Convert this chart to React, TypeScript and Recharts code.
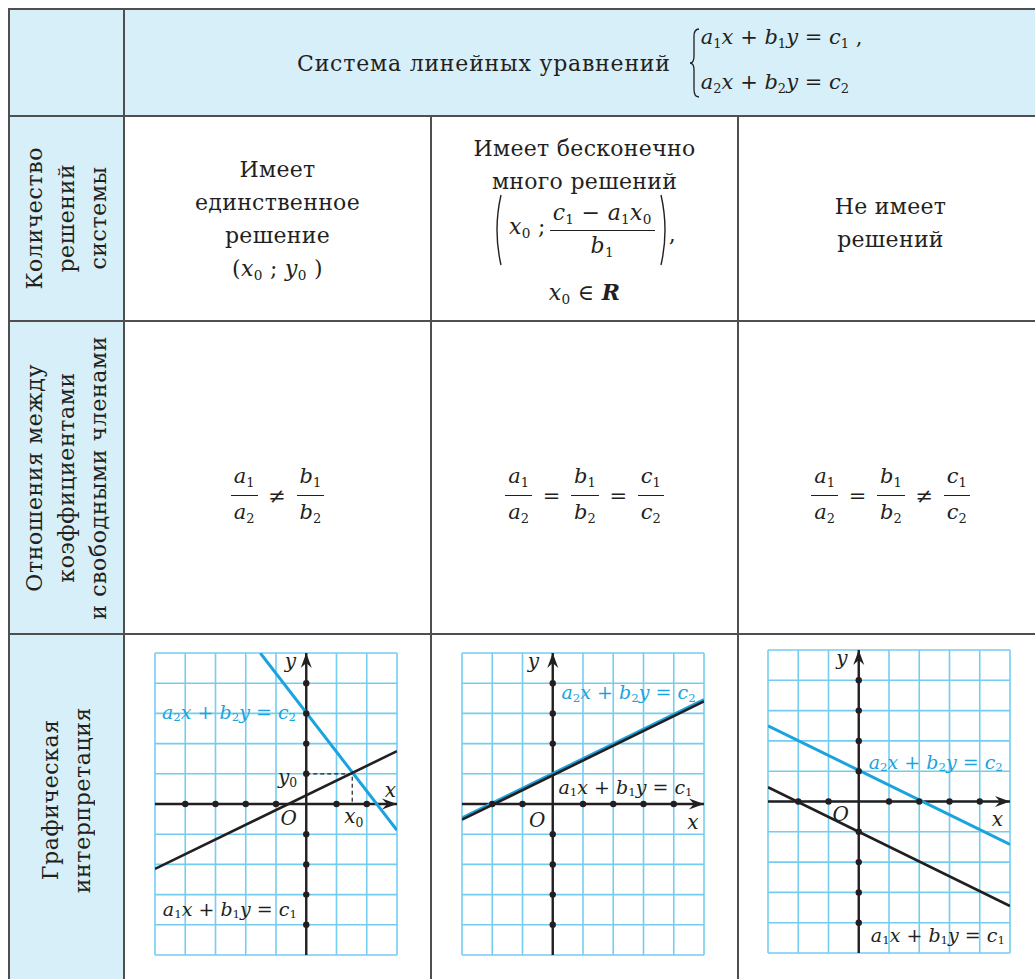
import React from 'react';
import {
  ComposedChart,
  Line,
  Scatter,
  XAxis,
  YAxis,
  CartesianGrid,
  ReferenceDot
} from 'recharts';

// --- graph data ---
const g1XTicks = [-5, -4, -3, -2, -1, 0, 1, 2, 3];
const g23XTicks = [-3, -2, -1, 0, 1, 2, 3, 4, 5];
const yTicks = [-5, -4, -3, -2, -1, 0, 1, 2, 3, 4, 5];

const g1Line1 = [{ x: -5, y: -2.15 }, { x: 3, y: 1.75 }];
const g1Line2 = [{ x: -1.52, y: 5 }, { x: 3, y: -0.87 }];
const g1Guide = [{ x: 0, y: 1 }, { x: 1.52, y: 1 }, { x: 1.52, y: 0 }];
const g1XDots = [-4, -3, -2, -1, 1, 2];
const g1YDots = [4, 3, 2, 1, -1, -2, -3, -4];

const g2Line1 = [{ x: -3, y: -0.52 }, { x: 5, y: 3.4 }];
const g2Line2 = [{ x: -3, y: -0.46 }, { x: 5, y: 3.46 }];
const g2XDots = [-2, -1, 1, 2, 3, 4];
const g2YDots = [4, 3, 2, -1, -2, -3, -4];

const g3Line1 = [{ x: -3, y: 0.47 }, { x: 5, y: -3.45 }];
const g3Line2 = [{ x: -3, y: 2.5 }, { x: 5, y: -1.42 }];
const g3XDots = [-2, -1, 1, 2, 3, 4];
const g3YDots = [4, 3, 2, 1, -1, -2, -3, -4];

const BLACK = '#231f20';
const BLUE = '#1ba3dd';
const GRID = '#74cdf0';
const CELL_BG = '#d7eff9';
const BORDER = '#4f4f4f';
const SERIF = '"DejaVu Serif", serif';
const MATH = '"DejaVu Serif", serif';

type Pt = { x: number; y: number };
type LabelSpec = { x: number; y: number; kind: 'eq1' | 'eq2' | 'x' | 'y' | 'O' | 'x0' | 'y0' };

const toDots = (xs: number[], ys: number[]): Pt[] => [
  ...xs.map((x) => ({ x, y: 0 })),
  ...ys.map((y) => ({ x: 0, y }))
];

const g1Labels: LabelSpec[] = [
  { x: -4.77, y: 3.05, kind: 'eq2' },
  { x: -4.74, y: -3.47, kind: 'eq1' },
  { x: -0.52, y: 4.74, kind: 'y' },
  { x: 2.78, y: 0.46, kind: 'x' },
  { x: -0.58, y: -0.47, kind: 'O' },
  { x: -0.62, y: 0.9, kind: 'y0' },
  { x: 1.57, y: -0.4, kind: 'x0' }
];
const g2Labels: LabelSpec[] = [
  { x: 0.29, y: 3.7, kind: 'eq2' },
  { x: 0.19, y: 0.56, kind: 'eq1' },
  { x: -0.64, y: 4.74, kind: 'y' },
  { x: -0.51, y: -0.53, kind: 'O' },
  { x: 4.63, y: -0.6, kind: 'x' }
];
const g3Labels: LabelSpec[] = [
  { x: 0.33, y: 1.3, kind: 'eq2' },
  { x: 0.4, y: -4.4, kind: 'eq1' },
  { x: -0.56, y: 4.74, kind: 'y' },
  { x: -0.6, y: -0.42, kind: 'O' },
  { x: 4.58, y: -0.58, kind: 'x' }
];

const Sub = ({ children, size }: { children: React.ReactNode; size: number }) => (
  <tspan fontSize={size * 0.62} fontStyle="normal" dy={size * 0.28}>
    {children}
  </tspan>
);

const EqSvg = ({ cx, cy, i, color }: { cx: number; cy: number; i: string; color: string }) => {
  const s = 19;
  const d = s * 0.28;
  return (
    <text x={cx} y={cy} fill={color} fontFamily={MATH} fontStyle="italic" fontSize={s} dominantBaseline="central">
      a<Sub size={s}>{i}</Sub>
      <tspan dy={-d}>x</tspan>
      <tspan fontStyle="normal"> + </tspan>b<Sub size={s}>{i}</Sub>
      <tspan dy={-d}>y</tspan>
      <tspan fontStyle="normal"> = </tspan>c<Sub size={s}>{i}</Sub>
    </text>
  );
};

const renderLabel = (kind: LabelSpec['kind']) => (p: any) => {
  const { cx, cy } = p;
  if (kind === 'eq1') return <EqSvg cx={cx} cy={cy} i="1" color={BLACK} />;
  if (kind === 'eq2') return <EqSvg cx={cx} cy={cy} i="2" color={BLUE} />;
  const s = 20;
  const base = kind === 'x0' ? 'x' : kind === 'y0' ? 'y' : kind;
  return (
    <text x={cx} y={cy} fill={BLACK} fontFamily={MATH} fontStyle="italic" fontSize={s} textAnchor="middle" dominantBaseline="central">
      {base}
      {(kind === 'x0' || kind === 'y0') && <Sub size={s}>0</Sub>}
    </text>
  );
};

const arrowDot = (dir: 'right' | 'up') => (p: any) => {
  const { cx, cy, index } = p;
  if (index !== 1) return <g key={`a-${index}`} />;
  const d =
    dir === 'right'
      ? `M${cx},${cy} L${cx - 15},${cy - 5.5} L${cx - 10},${cy} L${cx - 15},${cy + 5.5} Z`
      : `M${cx},${cy} L${cx - 5.5},${cy + 15} L${cx},${cy + 10} L${cx + 5.5},${cy + 15} Z`;
  return <path key={`a-${index}`} d={d} fill={BLACK} stroke="none" />;
};

const dotShape = (p: any) => <circle cx={p.cx} cy={p.cy} r={3.2} fill={BLACK} />;

interface GraphProps {
  xTicks: number[];
  line1: Pt[];
  line2: Pt[];
  guide?: Pt[];
  dots: Pt[];
  labels: LabelSpec[];
  height: number;
}

const PAD = 4;

const Graph: React.FC<GraphProps> = ({ xTicks, line1, line2, guide, dots, labels, height }) => {
  const xMin = xTicks[0];
  const xMax = xTicks[xTicks.length - 1];
  return (
    <ComposedChart width={242 + PAD * 2} height={height + PAD * 2} margin={{ top: PAD, right: PAD, bottom: PAD, left: PAD }}>
      <XAxis type="number" dataKey="x" domain={[xMin, xMax]} ticks={xTicks} allowDataOverflow hide />
      <YAxis type="number" dataKey="y" domain={[-5, 5]} ticks={yTicks} allowDataOverflow hide />
      <CartesianGrid stroke={GRID} strokeWidth={1.6} />
      {/* axes with arrows */}
      <Line data={[{ x: xMin, y: 0 }, { x: xMax, y: 0 }]} dataKey="y" stroke={BLACK} strokeWidth={2.4} dot={arrowDot('right')} isAnimationActive={false} />
      <Line data={[{ x: 0, y: -5 }, { x: 0, y: 5 }]} dataKey="y" stroke={BLACK} strokeWidth={2.4} dot={arrowDot('up')} isAnimationActive={false} />
      {guide && (
        <Line data={guide} dataKey="y" stroke={BLACK} strokeWidth={1.2} strokeDasharray="4 3" dot={false} isAnimationActive={false} />
      )}
      <Line data={line2} dataKey="y" stroke={BLUE} strokeWidth={3} dot={false} isAnimationActive={false} />
      <Line data={line1} dataKey="y" stroke={BLACK} strokeWidth={2.6} dot={false} isAnimationActive={false} />
      <Scatter data={dots} dataKey="y" shape={dotShape} isAnimationActive={false} />
      {labels.map((l, idx) => (
        <ReferenceDot key={idx} x={l.x} y={l.y} r={1} shape={renderLabel(l.kind)} />
      ))}
    </ComposedChart>
  );
};

// --- HTML math helpers ---
const I = ({ children }: { children: React.ReactNode }) => (
  <span style={{ fontStyle: 'italic', fontFamily: MATH }}>{children}</span>
);
const S = ({ children }: { children: React.ReactNode }) => (
  <span style={{ fontSize: '0.62em', verticalAlign: '-0.3em', fontStyle: 'normal' }}>{children}</span>
);

const Frac = ({ num, den, gap = 2 }: { num: React.ReactNode; den: React.ReactNode; gap?: number }) => (
  <span style={{ display: 'inline-flex', flexDirection: 'column', alignItems: 'center', verticalAlign: 'middle', margin: '0 4px', lineHeight: 1.15 }}>
    <span style={{ padding: `0 3px ${gap}px` }}>{num}</span>
    <span style={{ borderTop: `1.3px solid ${BLACK}`, alignSelf: 'stretch' }} />
    <span style={{ padding: `${gap}px 3px 0` }}>{den}</span>
  </span>
);

// thin stretchy delimiters drawn as tiny svg paths
const Brace = ({ h }: { h: number }) => (
  <svg width={12} height={h} style={{ display: 'inline-block', verticalAlign: 'middle' }}>
    <path
      d={`M10,1 Q5,1 5,${h * 0.12} L5,${h * 0.4} Q5,${h / 2} 1,${h / 2} Q5,${h / 2} 5,${h * 0.6} L5,${h * 0.88} Q5,${h - 1} 10,${h - 1}`}
      fill="none"
      stroke={BLACK}
      strokeWidth={1.3}
    />
  </svg>
);
const Paren = ({ h, right }: { h: number; right?: boolean }) => (
  <svg width={10} height={h} style={{ display: 'inline-block', verticalAlign: 'middle' }}>
    <path
      d={right ? `M2,1 Q10,${h / 2} 2,${h - 1}` : `M8,1 Q0,${h / 2} 8,${h - 1}`}
      fill="none"
      stroke={BLACK}
      strokeWidth={1.4}
    />
  </svg>
);

const ratio = (l: string) => (
  <Frac
    gap={4}
    num={<I>{l}<S>1</S></I>}
    den={<I>{l}<S>2</S></I>}
  />
);

const Rotated = ({ lines }: { lines: string[] }) => (
  <div
    style={{
      writingMode: 'vertical-rl',
      transform: 'rotate(180deg)',
      textAlign: 'center',
      lineHeight: '32px',
      fontSize: 22,
      letterSpacing: '0.6px'
    }}
  >
    {lines.map((t, i) => (
      <div key={i}>{t}</div>
    ))}
  </div>
);

const cell = (extra: React.CSSProperties = {}): React.CSSProperties => ({
  borderRight: `2px solid ${BORDER}`,
  borderBottom: `2px solid ${BORDER}`,
  boxSizing: 'border-box',
  display: 'flex',
  alignItems: 'center',
  justifyContent: 'center',
  textAlign: 'center',
  position: 'relative',
  ...extra
});

const rowText: React.CSSProperties = { fontSize: 22, lineHeight: '33px', letterSpacing: '0.3px' };

export default function App() {
  return (
    <div
      style={{
        position: 'absolute',
        left: 8,
        top: 8,
        width: 1027,
        height: 971,
        overflow: 'hidden',
        fontFamily: SERIF,
        color: BLACK,
        background: '#fff'
      }}
    >
      <div
        style={{
          display: 'grid',
          gridTemplateColumns: '115px 307px 307px 305px',
          gridTemplateRows: '107px 205px 313px 360px',
          borderTop: `2px solid ${BORDER}`,
          borderLeft: `2px solid ${BORDER}`,
          width: 1036,
          boxSizing: 'border-box'
        }}
      >
        {/* header */}
        <div style={cell({ background: CELL_BG })} />
        <div style={cell({ background: CELL_BG, gridColumn: '2 / 5', justifyContent: 'flex-start', paddingLeft: 172 })}>
          <span style={{ fontSize: 22, letterSpacing: '0.8px', marginTop: 2 }}>Система линейных уравнений</span>
          <span style={{ marginLeft: 18, display: 'inline-flex', alignItems: 'center' }}>
            <Brace h={70} />
          </span>
          <span style={{ display: 'inline-flex', flexDirection: 'column', textAlign: 'left', fontSize: 21, lineHeight: '39px' }}>
            <span>
              <I>a</I><S>1</S><I>x</I> + <I>b</I><S>1</S><I>y</I> = <I>c</I><S>1</S> ,
            </span>
            <span>
              <I>a</I><S>2</S><I>x</I> + <I>b</I><S>2</S><I>y</I> = <I>c</I><S>2</S>
            </span>
          </span>
        </div>

        {/* row 2 */}
        <div style={cell({ background: CELL_BG })}>
          <Rotated lines={['Количество', 'решений', 'системы']} />
        </div>
        <div style={cell({ paddingTop: 8 })}>
          <div style={rowText}>
            Имеет<br />единственное<br />решение<br />
            (<I>x</I><S>0</S> ; <I>y</I><S>0</S> )
          </div>
        </div>
        <div style={cell({ alignItems: 'flex-start', paddingTop: 15 })}>
          <div style={rowText}>
            Имеет бесконечно<br />много решений
            <div style={{ display: 'flex', alignItems: 'center', justifyContent: 'center', height: 76, marginTop: -6 }}>
              <Paren h={72} />
              <span style={{ marginLeft: 6 }}>
                <I>x</I><S>0</S>&nbsp;;
              </span>
              <Frac
                num={<span><I>c</I><S>1</S> − <I>a</I><S>1</S><I>x</I><S>0</S></span>}
                den={<span><I>b</I><S>1</S></span>}
              />
              <Paren h={72} right />
              <span style={{ alignSelf: 'center', marginTop: 8 }}>,</span>
            </div>
            <div style={{ marginTop: 8 }}>
              <I>x</I><S>0</S> ∈ <b><I>R</I></b>
            </div>
          </div>
        </div>
        <div style={cell({ paddingTop: 8 })}>
          <div style={rowText}>
            Не имеет<br />решений
          </div>
        </div>

        {/* row 3 */}
        <div style={cell({ background: CELL_BG })}>
          <Rotated lines={['Отношения между', 'коэффициентами', 'и свободными членами']} />
        </div>
        <div style={cell({ fontSize: 21, paddingTop: 36 })}>
          {ratio('a')}&nbsp;≠&nbsp;{ratio('b')}
        </div>
        <div style={cell({ fontSize: 21, paddingTop: 36 })}>
          {ratio('a')}&nbsp;=&nbsp;{ratio('b')}&nbsp;=&nbsp;{ratio('c')}
        </div>
        <div style={cell({ fontSize: 21, paddingTop: 36 })}>
          {ratio('a')}&nbsp;=&nbsp;{ratio('b')}&nbsp;≠&nbsp;{ratio('c')}
        </div>

        {/* row 4 */}
        <div style={cell({ background: CELL_BG, alignItems: 'flex-start', paddingTop: 72 })}>
          <Rotated lines={['Графическая', 'интерпретация']} />
        </div>
        <div style={cell({ display: 'block' })}>
          <div style={{ position: 'absolute', left: 30 - PAD, top: 18 - PAD }}>
            <Graph xTicks={g1XTicks} line1={g1Line1} line2={g1Line2} guide={g1Guide} dots={toDots(g1XDots, g1YDots)} labels={g1Labels} height={302} />
          </div>
        </div>
        <div style={cell({ display: 'block' })}>
          <div style={{ position: 'absolute', left: 30 - PAD, top: 18 - PAD }}>
            <Graph xTicks={g23XTicks} line1={g2Line1} line2={g2Line2} dots={toDots(g2XDots, g2YDots)} labels={g2Labels} height={302} />
          </div>
        </div>
        <div style={cell({ display: 'block' })}>
          <div style={{ position: 'absolute', left: 29 - PAD, top: 15 - PAD }}>
            <Graph xTicks={g23XTicks} line1={g3Line1} line2={g3Line2} dots={toDots(g3XDots, g3YDots)} labels={g3Labels} height={303} />
          </div>
        </div>
      </div>
    </div>
  );
}
